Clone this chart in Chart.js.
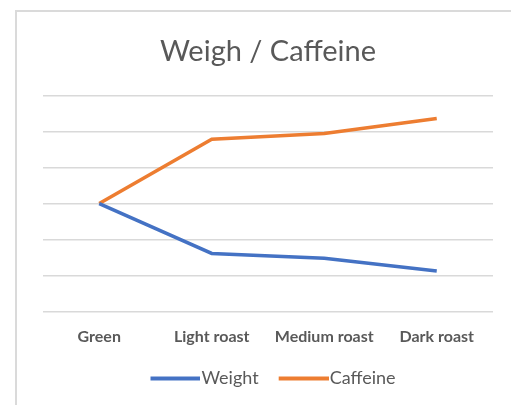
<!DOCTYPE html>
<html>
<head>
<meta charset="utf-8">
<script src="https://cdn.jsdelivr.net/npm/chart.js@4"></script>
<style>
  html, body { margin: 0; padding: 0; background: #ffffff; }
  #wrap { position: relative; width: 511px; height: 405px; }
  canvas { display: block; }
</style>
</head>
<body>
<div id="wrap"><canvas id="chart" width="511" height="405"></canvas></div>
<script>
// Roasting stages along the x axis
const categories = ['Green', 'Light roast', 'Medium roast', 'Dark roast'];
// Relative weight and caffeine levels per stage
const weightValues = [3.0, 1.61, 1.48, 1.12];
const caffeineValues = [3.0, 4.79, 4.95, 5.37];

const titleText = 'Weigh / Caffeine';
const textColor = '#595959';
const gridColor = '#d9d9d9';
const weightColor = '#4472c4';
const caffeineColor = '#ed7d31';

// Legend swatch geometry: blank lead-in, line length, font size
const legendFontSize = 18;
const swatchLead = 10;
const swatchLine = 50;
const swatchBox = swatchLead + swatchLine + 1 - legendFontSize / 2;

// Builds a legend swatch: a thick line that runs right up to the label text
function legendSwatch(color) {
  const centre = swatchBox / 2;
  const half = Math.max(centre, swatchLead + swatchLine - centre);
  const c = document.createElement('canvas');
  c.width = Math.ceil(half * 2);
  c.height = 6;
  const g = c.getContext('2d');
  const origin = centre - c.width / 2;
  g.strokeStyle = color;
  g.lineWidth = 4;
  g.beginPath();
  g.moveTo(swatchLead - origin, 3);
  g.lineTo(swatchLead + swatchLine - origin, 3);
  g.stroke();
  return c;
}

// White background plus the light frame along the left and top edges
const framePlugin = {
  id: 'frame',
  beforeDraw(chart) {
    const ctx = chart.ctx;
    ctx.save();
    ctx.fillStyle = '#ffffff';
    ctx.fillRect(0, 0, chart.width, chart.height);
    ctx.strokeStyle = '#dadada';
    ctx.lineWidth = 2;
    ctx.beginPath();
    ctx.moveTo(16, chart.height);
    ctx.lineTo(16, 11);
    ctx.lineTo(chart.width, 11);
    ctx.stroke();
    ctx.restore();
  }
};

new Chart(document.getElementById('chart'), {
  type: 'line',
  data: {
    labels: categories,
    datasets: [
      {
        label: 'Weight',
        data: weightValues,
        borderColor: weightColor,
        backgroundColor: weightColor,
        borderWidth: 3.5,
        pointRadius: 0,
        pointStyle: legendSwatch(weightColor),
        tension: 0
      },
      {
        label: 'Caffeine',
        data: caffeineValues,
        borderColor: caffeineColor,
        backgroundColor: caffeineColor,
        borderWidth: 3.5,
        pointRadius: 0,
        pointStyle: legendSwatch(caffeineColor),
        tension: 0
      }
    ]
  },
  options: {
    responsive: false,
    animation: false,
    layout: { padding: { left: 43, right: 18, top: 0, bottom: 7.5 } },
    plugins: {
      title: {
        display: true,
        text: titleText,
        color: textColor,
        font: { family: 'Lato', size: 29, weight: 'normal' },
        padding: { top: 34, bottom: 27 }
      },
      legend: {
        position: 'bottom',
        labels: {
          usePointStyle: true,
          pointStyleWidth: swatchBox,
          color: textColor,
          font: { family: 'Lato', size: legendFontSize },
          padding: 10
        }
      },
      tooltip: { enabled: false }
    },
    scales: {
      x: {
        offset: true,
        grid: { display: false },
        border: { display: false },
        ticks: {
          color: textColor,
          font: { family: 'Lato', size: 16, weight: 'bold' },
          padding: 8,
          maxRotation: 0
        },
        afterFit(scale) { scale.height += 5; }
      },
      y: {
        min: 0,
        max: 6,
        ticks: { display: false, stepSize: 1 },
        grid: { color: gridColor, lineWidth: 1.5, drawTicks: false },
        border: { display: false }
      }
    }
  },
  plugins: [framePlugin]
});
</script>
</body>
</html>
